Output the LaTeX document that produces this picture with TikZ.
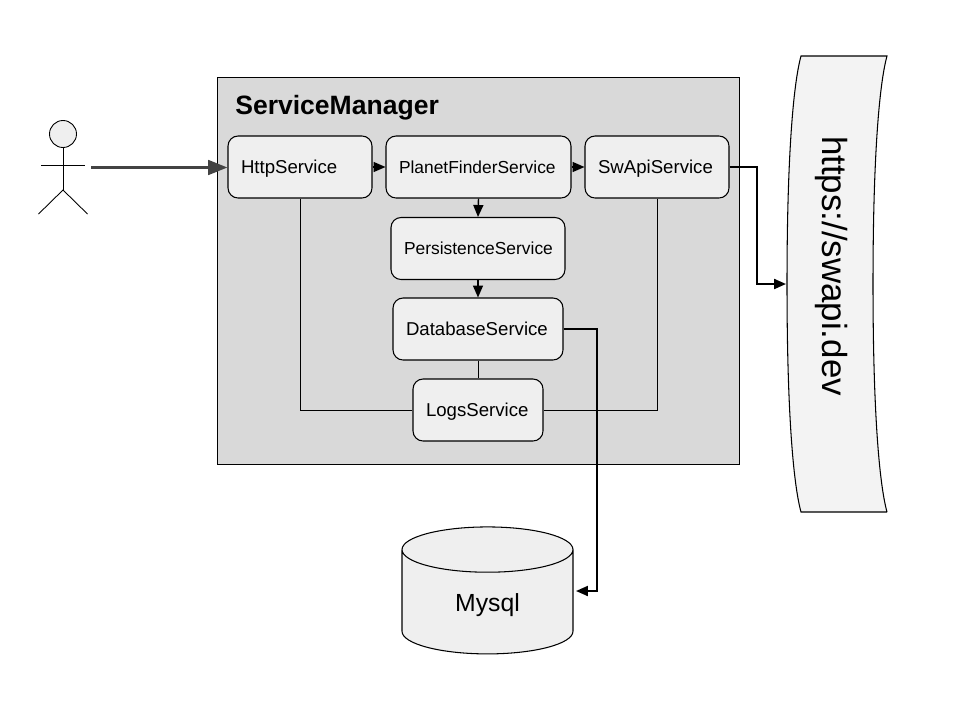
\documentclass[tikz,border=0pt]{standalone}
\usepackage{fontspec}
\setmainfont{Liberation Sans}
\usepackage{xcolor}
\usetikzlibrary{calc}
\usetikzlibrary{arrows.meta}
\usetikzlibrary{shapes.geometric}
\definecolor{C0}{HTML}{D9D9D9}
\definecolor{C1}{HTML}{EFEFEF}
\definecolor{C2}{HTML}{F3F3F3}
\definecolor{C3}{HTML}{434343}
\tikzset{
  svc/.style={draw, fill=C1, rounded corners=0.2cm, line width=0.6pt, minimum height=1.24cm, inner xsep=0.26cm, inner ysep=0pt, align=left, text height=9.2pt, text depth=2pt, font=\fontsize{10.6}{12}\selectfont},
  svcsmall/.style={svc, font=\fontsize{9.9}{12}\selectfont},
  conn/.style={line width=0.8pt, -{Triangle[length=6.8pt, width=5.7pt]}},
  connlong/.style={line width=1.1pt, -{Triangle[length=6.8pt, width=5.7pt]}},
  plain/.style={line width=0.5pt},
  actorline/.style={line width=0.5pt}
}
\begin{document}
\begin{tikzpicture}[x=0.02cm, y=-0.02cm]
\useasboundingbox (0,0) rectangle (960,720);
\node[draw, fill=C0, line width=0.6pt, minimum width=10.46cm, minimum height=7.74cm, inner sep=0pt] (manager) at (478.5,271) {};
\node[anchor=west, inner sep=0pt, font=\fontsize{15.1}{16}\selectfont\bfseries] (managerlabel) at (235,108) {ServiceManager};

\node[draw, circle, fill=C1, minimum size=0.54cm, inner sep=0pt, line width=0.5pt] (head) at (63,134) {};
\coordinate (hip) at (63,190);
\coordinate (armL) at (41,165);
\coordinate (armR) at (84.5,165);
\coordinate (legL) at (38.5,214);
\coordinate (legR) at (87.5,214);
\coordinate (actorout) at (91,167.5);
\draw[actorline] (head.south)--(hip);
\draw[actorline] (armL)--(armR);
\draw[actorline] (legL)--(hip)--(legR);

\node[svc, text width=2.36cm] (http) at (300,167) {HttpService};
\node[svcsmall, text width=3.18cm] (planet) at (478.5,167) {PlanetFinderService};
\node[svc, text width=2.36cm] (swapisvc) at (657,167) {SwApiService};
\node[svcsmall, text width=2.96cm] (persist) at (478,248.5) {PersistenceService};
\node[svc, text width=2.88cm] (database) at (478,329) {DatabaseService};
\node[svc, text width=2.08cm] (logs) at (478,410) {LogsService};

\fill[C2] (801,56)--(887,56) .. controls (879,85) and (873,160) .. (873,284) .. controls (873,408) and (879,483) .. (887,512)--(801,512) .. controls (793,483) and (787,408) .. (787,284) .. controls (787,160) and (793,85) .. (801,56);
\draw[line width=0.6pt] (887,512)--(801,512) .. controls (793,483) and (787,408) .. (787,284) .. controls (787,160) and (793,85) .. (801,56)--(887,56) .. controls (879,85) and (873,160) .. (873,284) .. controls (873,408) and (879,483) .. (887,512);
\node[rotate=-90, inner sep=0pt, font=\fontsize{19.85}{24}\selectfont] (swapi) at (831.5,266) {https://swapi.dev};
\coordinate (swapiin) at (786,284);

\node[draw, fill=C1, cylinder, shape border rotate=90, shape aspect=0.7, line width=0.6pt, minimum height=2.54cm, minimum width=3.42cm, inner sep=0pt, text height=10.4pt, text depth=0pt, font=\fontsize{14.1}{16}\selectfont] (mysql) at (487.5,602) {Mysql};
\coordinate (mysqlin) at (576,591);

\draw[-{Triangle[length=11pt, width=8.3pt]}, C3, line width=1.7pt] (actorout)--(http.west |- actorout);
\draw[conn] (http.east)--(planet.west);
\draw[conn] (planet.east)--(swapisvc.west);
\draw[conn] (planet.south)--(persist.north);
\draw[conn] (persist.south)--(database.north);
\draw[plain] (database.south)--(logs.north);
\draw[plain] (http.south)|-(logs.west);
\draw[plain] (swapisvc.south)|-(logs.east);
\draw[connlong] (swapisvc.east)-|(757,284)--(swapiin);
\draw[connlong] (database.east)-|(597,591)--(mysqlin);
\end{tikzpicture}
\end{document}
